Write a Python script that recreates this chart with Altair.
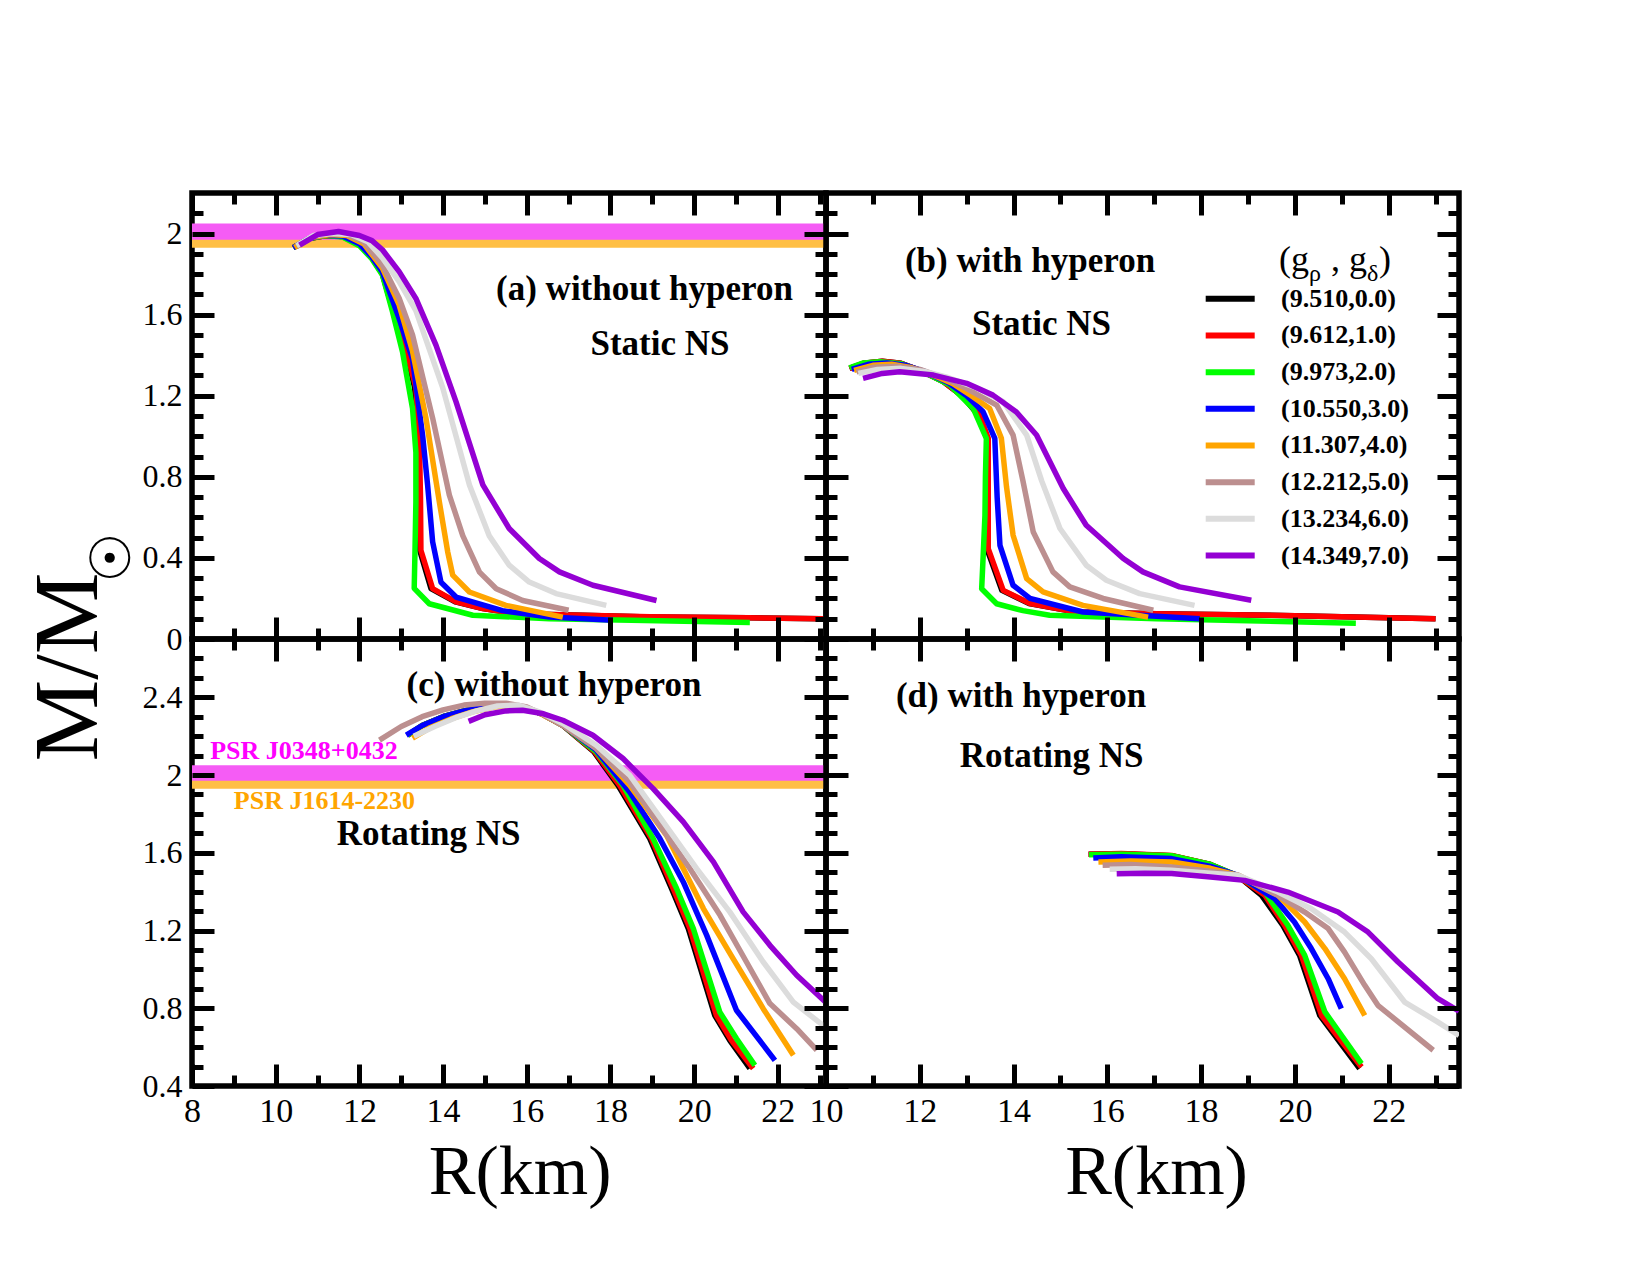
import altair as alt
import pandas as pd

LABELS = ["(9.510,0.0)", "(9.612,1.0)", "(9.973,2.0)", "(10.550,3.0)",
          "(11.307,4.0)", "(12.212,5.0)", "(13.234,6.0)", "(14.349,7.0)"]
COLORS = ["#000000", "#ff0000", "#00ff00", "#0000ff",
          "#ffa500", "#bc8f8f", "#dcdcdc", "#9400d3"]

# ---------------- panel (a): without hyperon, static ----------------
A0 = [(10.42,1.93),(10.8,1.975),(11.2,1.99),(11.6,1.985),(12.0,1.945),(12.3,1.88),(12.55,1.80),(12.93,1.53),(13.17,1.37),(13.32,1.24),(13.4,1.006),(13.43,0.7),(13.44,0.438),(13.71,0.249),(14.29,0.183),(14.95,0.15),(15.74,0.125),(17.34,0.117),(18.94,0.108),(21.3,0.105),(23.0,0.10)]
A1 = [(10.42,1.93),(10.8,1.975),(11.2,1.99),(11.6,1.985),(12.0,1.945),(12.3,1.88),(12.55,1.80),(12.95,1.53),(13.19,1.37),(13.35,1.24),(13.43,1.006),(13.46,0.7),(13.47,0.438),(13.75,0.249),(14.31,0.183),(14.95,0.15),(15.74,0.125),(17.34,0.117),(18.94,0.11),(21.3,0.105),(23.09,0.10)]
A2 = [(10.42,1.93),(10.8,1.975),(11.2,1.99),(11.6,1.983),(12.0,1.94),(12.3,1.875),(12.55,1.795),(12.79,1.615),(13.03,1.417),(13.27,1.137),(13.35,0.92),(13.35,0.676),(13.33,0.45),(13.31,0.25),(13.67,0.174),(14.71,0.117),(16.54,0.1),(18.5,0.092),(21.33,0.081)]
A3 = [(10.42,1.93),(10.8,1.976),(11.2,1.992),(11.6,1.988),(12.0,1.95),(12.3,1.885),(12.55,1.81),(12.95,1.58),(13.27,1.38),(13.51,1.006),(13.63,0.76),(13.75,0.48),(13.95,0.28),(14.31,0.207),(15.42,0.14),(16.54,0.108),(18.06,0.092)]
A4 = [(10.45,1.932),(10.85,1.98),(11.3,1.995),(11.7,1.99),(12.1,1.95),(12.55,1.83),(12.95,1.648),(13.27,1.42),(13.59,1.09),(13.91,0.677),(14.11,0.43),(14.23,0.315),(14.63,0.232),(15.5,0.166),(16.86,0.108)]
A5 = [(10.5,1.935),(10.9,1.985),(11.3,2.0),(11.7,1.995),(12.1,1.96),(12.55,1.845),(12.95,1.681),(13.27,1.50),(13.75,1.09),(14.15,0.71),(14.47,0.51),(14.87,0.33),(15.27,0.248),(15.9,0.19),(17.0,0.142)]
A6 = [(10.5,1.94),(10.9,1.99),(11.35,2.0),(11.8,1.995),(12.2,1.96),(12.55,1.88),(12.95,1.763),(13.35,1.62),(13.99,1.24),(14.63,0.76),(15.1,0.51),(15.58,0.364),(16.06,0.281),(16.7,0.224),(17.9,0.166)]
A7 = [(10.57,1.943),(11.0,1.995),(11.5,2.01),(12.0,1.99),(12.3,1.965),(12.55,1.92),(12.95,1.812),(13.35,1.68),(13.83,1.45),(14.31,1.17),(14.95,0.76),(15.58,0.545),(16.3,0.397),(16.78,0.331),(17.58,0.265),(19.1,0.19)]

# ---------------- panel (b): with hyperon, static ----------------
B0 = [(10.5,1.335),(10.8,1.36),(11.2,1.37),(11.6,1.36),(12.0,1.325),(12.5,1.27),(12.9,1.2),(13.25,1.104),(13.43,0.99),(13.43,0.446),(13.75,0.24),(14.33,0.175),(15.34,0.133),(17.05,0.125),(20.0,0.115),(23.0,0.10)]
B1 = [(10.5,1.335),(10.8,1.36),(11.2,1.37),(11.6,1.36),(12.0,1.325),(12.5,1.27),(12.9,1.2),(13.28,1.104),(13.46,0.99),(13.46,0.446),(13.78,0.24),(14.35,0.175),(15.34,0.133),(17.05,0.125),(20.0,0.115),(23.0,0.10)]
B2 = [(10.5,1.338),(10.8,1.362),(11.15,1.368),(11.6,1.358),(12.07,1.318),(12.64,1.253),(13.14,1.137),(13.42,0.99),(13.4,0.8),(13.39,0.61),(13.35,0.4),(13.32,0.248),(13.64,0.174),(14.2,0.14),(14.77,0.117),(17.05,0.1),(19.0,0.09),(21.3,0.078)]
B3 = [(10.55,1.33),(10.9,1.355),(11.3,1.362),(11.7,1.35),(12.1,1.32),(12.6,1.265),(13.0,1.2),(13.35,1.121),(13.6,0.99),(13.65,0.7),(13.71,0.462),(13.99,0.265),(14.35,0.2),(15.48,0.133),(17.97,0.1)]
B4 = [(10.6,1.325),(11.0,1.35),(11.4,1.355),(11.8,1.34),(12.2,1.31),(12.7,1.26),(13.1,1.2),(13.49,1.137),(13.74,0.99),(13.85,0.75),(13.99,0.512),(14.28,0.298),(14.63,0.232),(15.48,0.166),(16.87,0.108)]
B5 = [(10.65,1.318),(11.0,1.34),(11.5,1.345),(12.0,1.33),(12.5,1.29),(13.0,1.235),(13.64,1.154),(13.99,1.006),(14.2,0.78),(14.42,0.528),(14.84,0.331),(15.2,0.257),(15.91,0.2),(16.98,0.142)]
B6 = [(10.69,1.31),(11.1,1.33),(11.6,1.335),(12.1,1.32),(12.6,1.29),(13.2,1.24),(13.78,1.17),(14.28,1.006),(14.6,0.78),(14.99,0.545),(15.55,0.364),(15.98,0.29),(16.69,0.224),(17.86,0.166)]
B7 = [(10.79,1.286),(11.2,1.31),(11.57,1.318),(12.29,1.302),(13.0,1.261),(13.56,1.203),(14.06,1.12),(14.49,1.006),(15.06,0.742),(15.55,0.561),(16.34,0.397),(16.76,0.331),(17.54,0.257),(19.07,0.191)]

# ---------------- panel (c): without hyperon, rotating ----------------
C0 = [(13.15,2.205),(13.5,2.255),(14.0,2.30),(14.5,2.33),(15.0,2.35),(15.5,2.36),(16.0,2.345),(16.4,2.31),(16.86,2.256),(17.6,2.12),(18.18,1.947),(18.94,1.673),(19.46,1.416),(19.86,1.21),(20.49,0.764),(20.85,0.635),(21.33,0.49)]
C1 = [(13.15,2.205),(13.5,2.255),(14.0,2.30),(14.5,2.33),(15.0,2.35),(15.5,2.36),(16.0,2.345),(16.4,2.31),(16.86,2.256),(17.62,2.12),(18.22,1.947),(18.98,1.673),(19.5,1.416),(19.9,1.21),(20.53,0.764),(20.89,0.635),(21.41,0.49)]
C2 = [(13.15,2.205),(13.5,2.255),(14.0,2.30),(14.5,2.33),(15.0,2.35),(15.5,2.36),(16.0,2.345),(16.4,2.31),(16.86,2.256),(17.66,2.12),(18.3,1.947),(19.02,1.673),(19.58,1.416),(19.98,1.21),(20.61,0.781),(21.01,0.644),(21.45,0.506)]
C3 = [(13.12,2.205),(13.5,2.255),(14.0,2.30),(14.5,2.33),(15.0,2.35),(15.5,2.36),(16.0,2.345),(16.4,2.31),(16.86,2.256),(17.66,2.128),(18.46,1.913),(19.18,1.673),(19.74,1.45),(20.3,1.175),(21.01,0.79),(21.93,0.532)]
C4 = [(13.27,2.19),(13.7,2.245),(14.2,2.29),(14.7,2.325),(15.2,2.35),(15.7,2.36),(16.2,2.33),(16.86,2.256),(17.66,2.136),(18.46,1.947),(19.34,1.69),(20.22,1.313),(20.93,1.055),(21.65,0.798),(22.37,0.558)]
C5 = [(12.48,2.18),(13.0,2.25),(13.5,2.30),(14.0,2.335),(14.5,2.36),(15.0,2.37),(15.5,2.37),(16.0,2.35),(16.4,2.31),(16.86,2.256),(17.66,2.136),(18.46,1.965),(19.18,1.741),(19.9,1.518),(20.62,1.278),(21.25,1.038),(21.81,0.824),(22.45,0.695),(22.93,0.584)]
C6 = [(13.3,2.2),(13.8,2.25),(14.3,2.295),(14.8,2.33),(15.3,2.355),(15.8,2.36),(16.3,2.325),(16.86,2.265),(17.66,2.153),(18.46,1.999),(19.26,1.759),(20.06,1.518),(20.85,1.296),(21.65,1.038),(22.37,0.832),(23.15,0.70)]
C7 = [(14.61,2.276),(15.0,2.31),(15.5,2.33),(15.9,2.333),(16.4,2.315),(16.86,2.282),(17.58,2.205),(18.3,2.085),(19.02,1.93),(19.74,1.759),(20.46,1.553),(21.17,1.296),(21.81,1.124),(22.45,0.97),(23.15,0.83)]

# ---------------- panel (d): with hyperon, rotating ----------------
D0 = [(15.6,1.592),(16.3,1.595),(17.37,1.585),(18.2,1.54),(18.79,1.48),(19.29,1.381),(19.74,1.227),(20.1,1.072),(20.53,0.763),(21.38,0.49)]
D1 = [(15.6,1.593),(16.3,1.596),(17.37,1.586),(18.2,1.54),(18.79,1.478),(19.36,1.381),(19.78,1.227),(20.14,1.072),(20.57,0.763),(21.42,0.498)]
D2 = [(15.61,1.59),(16.3,1.593),(17.37,1.585),(18.2,1.54),(18.79,1.48),(19.36,1.398),(19.85,1.227),(20.21,1.072),(20.64,0.781),(21.42,0.515)]
D3 = [(15.7,1.573),(16.3,1.58),(17.37,1.57),(18.2,1.53),(18.79,1.484),(19.57,1.364),(19.99,1.244),(20.35,1.107),(20.71,0.952),(20.99,0.798)]
D4 = [(15.81,1.553),(16.5,1.558),(17.37,1.553),(18.2,1.52),(18.79,1.484),(19.64,1.381),(20.21,1.244),(20.64,1.107),(21.06,0.952),(21.49,0.763)]
D5 = [(15.9,1.536),(16.5,1.54),(17.37,1.527),(18.2,1.505),(18.79,1.484),(19.64,1.381),(20.21,1.295),(20.71,1.21),(21.06,1.089),(21.49,0.918),(21.77,0.815),(22.95,0.584)]
D6 = [(16.05,1.515),(16.6,1.518),(17.37,1.51),(18.2,1.495),(18.79,1.484),(19.64,1.398),(20.35,1.312),(21.06,1.192),(21.63,1.055),(22.34,0.832),(23.05,0.729),(23.5,0.66)]
D7 = [(16.2,1.492),(16.8,1.495),(17.37,1.493),(18.2,1.475),(18.93,1.458),(19.85,1.398),(20.92,1.295),(21.56,1.192),(22.2,1.038),(23.05,0.849),(23.5,0.785)]

# pulsar mass constraints
BAND_NAMES = ["PSR J1614-2230", "PSR J0348+0432"]
BAND_LO = [1.93, 1.97]
BAND_HI = [2.01, 2.05]
BAND_FILLS = ["#ffbf45", "#f55cf5"]

# axis ranges and ticks
XDOM_L = [8, 23.15]
XDOM_R = [10, 23.5]
YDOM_T = [0, 2.2]
YDOM_B = [0.4, 2.7]
XMAJ_L = [8, 10, 12, 14, 16, 18, 20, 22]
XMIN_L = [9, 11, 13, 15, 17, 19, 21, 23]
XMAJ_R = [10, 12, 14, 16, 18, 20, 22]
XMIN_R = [11, 13, 15, 17, 19, 21, 23]
YMAJ_T = [0, 0.4, 0.8, 1.2, 1.6, 2.0]
YMIN_T = [0.1, 0.2, 0.3, 0.5, 0.6, 0.7, 0.9, 1.0, 1.1, 1.3, 1.4, 1.5, 1.7, 1.8, 1.9, 2.1]
YMAJ_B = [0.4, 0.8, 1.2, 1.6, 2.0, 2.4]
YMIN_B = [0.5, 0.6, 0.7, 0.9, 1.0, 1.1, 1.3, 1.4, 1.5, 1.7, 1.8, 1.9, 2.1, 2.2, 2.3, 2.5, 2.6]

SERIF = "Liberation Serif"
W_L, W_R = 634, 633
H_T, H_B = 446, 447
MAJ, MIN = 22, 11

CSCALE = alt.Scale(domain=LABELS, range=COLORS)


def series_df(series):
    rows = []
    for k, pts in enumerate(series):
        for i, (r, m) in enumerate(pts):
            rows.append({"series": LABELS[k], "k": k, "i": i, "R": r, "M": m})
    return pd.DataFrame(rows)


def axis(orient, values, major, labels=False, size=32, pad=10, fmt=None, **extra):
    L = MAJ if major else MIN
    kw = dict(orient=orient, values=values, offset=-L, tickSize=L, tickWidth=5,
              tickColor="black", tickCap="butt", domain=False, grid=False,
              labels=labels, zindex=1, title=None)
    if labels:
        kw.update(labelFont=SERIF, labelFontSize=size, labelColor="black",
                  labelPadding=pad, labelOverlap=False, labelFlush=False, labelBound=False)
        if fmt:
            kw["format"] = fmt
    kw.update(extra)
    return alt.Axis(**kw)


def text(t, x, y, size=35, color="black", align="center", weight="bold", font=SERIF, angle=0,
         baseline="alphabetic"):
    return alt.Chart(pd.DataFrame({"t": [t]})).mark_text(
        font=font, fontSize=size, fontWeight=weight, color=color, align=align,
        baseline=baseline, angle=angle
    ).encode(x=alt.value(x), y=alt.value(y), text="t:N")


def panel(series, xdom, ydom, w, xmaj, xmin, ymaj, ymin, xlabels, ylabels,
          bands=False, extra=None, xtitle_x=None):
    xs = alt.Scale(domain=xdom, nice=False, zero=False)
    ys = alt.Scale(domain=ydom, nice=False, zero=False)
    df = series_df(series)
    if xlabels:
        bottom_major = axis("bottom", xmaj, True, labels=True, size=34, pad=8, fmt="d",
                            title="R(km)", titleFont=SERIF, titleFontSize=70,
                            titleFontWeight="normal", titleColor="black",
                            titleX=xtitle_x, titleY=129, titleAlign="center",
                            titleBaseline="alphabetic", titleAngle=0)
    else:
        bottom_major = axis("bottom", xmaj, True)
    axes_x = [bottom_major, axis("bottom", xmin, False),
              axis("top", xmaj, True), axis("top", xmin, False)]
    axes_y = [axis("left", ymaj, True, labels=ylabels, size=32, pad=10, fmt="~g"),
              axis("left", ymin, False), axis("right", ymaj, True), axis("right", ymin, False)]
    layers = []
    if bands:
        bdf = pd.DataFrame({"name": BAND_NAMES, "lo": BAND_LO, "hi": BAND_HI})
        layers.append(alt.Chart(bdf).mark_rect().encode(
            x=alt.value(0), x2=alt.value("width"),
            y=alt.Y("lo:Q", scale=ys, axis=None), y2="hi:Q",
            fill=alt.Fill("name:N", scale=alt.Scale(domain=BAND_NAMES, range=BAND_FILLS), legend=None),
            order=alt.Order("lo:Q"),
        ))
    for k in range(8):
        layers.append(alt.Chart(df).transform_filter(alt.datum.k == k).mark_line(
            strokeWidth=5.5, clip=True, strokeJoin="round", strokeCap="butt"
        ).encode(
            x=alt.X("R:Q", scale=xs, axis=axes_x[k] if k < 4 else None),
            y=alt.Y("M:Q", scale=ys, axis=axes_y[k] if k < 4 else None),
            color=alt.Color("series:N", scale=CSCALE, legend=None),
            order=alt.Order("i:Q"),
        ))
    if extra:
        layers.extend(extra)
    return alt.layer(*layers).properties(width=w, height=H_T if ydom == YDOM_T else H_B)


# legend (inside panel b)
LEG = pd.DataFrame({"series": LABELS, "idx": list(range(8))})
leg_scale = alt.Scale(domain=[0, 7], range=[105.8, 362.5], nice=False, zero=False)
legend_layers = [
    alt.Chart(LEG).mark_rule(strokeWidth=6, strokeCap="butt").encode(
        x=alt.value(379.7), x2=alt.value(428.7),
        y=alt.Y("idx:Q", scale=leg_scale, axis=None),
        color=alt.Color("series:N", scale=CSCALE, legend=None)),
    alt.Chart(LEG).mark_text(font=SERIF, fontSize=26, fontWeight="bold", align="left",
                             baseline="middle", color="black").encode(
        x=alt.value(455), y=alt.Y("idx:Q", scale=leg_scale, axis=None), text="series:N"),
    text("(g", 453, 78, size=36, weight="normal", align="left"),
    text("ρ", 483, 88, size=24, weight="normal", align="left"),
    text(", g", 505, 78, size=36, weight="normal", align="left"),
    text("δ", 541, 88, size=24, weight="normal", align="left"),
    text(")", 553, 78, size=36, weight="normal", align="left"),
]

pa = panel([A0, A1, A2, A3, A4, A5, A6, A7], XDOM_L, YDOM_T, W_L, XMAJ_L, XMIN_L, YMAJ_T, YMIN_T,
           xlabels=False, ylabels=True, bands=True,
           extra=[text("(a) without hyperon", 452.5, 107), text("Static NS", 468, 161.5),
                  text("M/M", -95, 474, size=92, weight="normal", angle=270),
                  text("☉", -82.5, 368, size=56, weight="bold", font="DejaVu Sans",
                       baseline="middle")])
pa = pa.resolve_axis(x="independent", y="independent")

pb = panel([B0, B1, B2, B3, B4, B5, B6, B7], XDOM_R, YDOM_T, W_R, XMAJ_R, XMIN_R, YMAJ_T, YMIN_T,
           xlabels=False, ylabels=False,
           extra=[text("(b) with hyperon", 204, 79), text("Static NS", 215.5, 141.5)] + legend_layers)
pb = pb.resolve_scale(y="independent").resolve_axis(x="independent", y="independent")

pc = panel([C0, C1, C2, C3, C4, C5, C6, C7], XDOM_L, YDOM_B, W_L, XMAJ_L, XMIN_L, YMAJ_B, YMIN_B,
           xlabels=True, ylabels=True, bands=True, xtitle_x=327.7,
           extra=[text("(c) without hyperon", 362, 56.5), text("Rotating NS", 236.7, 206.3),
                  text("PSR J0348+0432", 18.2, 120.3, size=26, color="#ff00ff", align="left"),
                  text("PSR J1614-2230", 41.8, 169.7, size=26, color="#ffa500", align="left")])
pc = pc.resolve_axis(x="independent", y="independent")

pd_ = panel([D0, D1, D2, D3, D4, D5, D6, D7], XDOM_R, YDOM_B, W_R, XMAJ_R, XMIN_R, YMAJ_B, YMIN_B,
            xlabels=True, ylabels=False, xtitle_x=330,
            extra=[text("(d) with hyperon", 195, 68), text("Rotating NS", 225.6, 128)])
pd_ = pd_.resolve_axis(x="independent", y="independent")

chart = alt.concat(
    pa, pb, pc, pd_, columns=2, spacing=0, bounds="flush",
).configure_view(stroke="black", strokeWidth=5.5).properties(
    padding={"left": 20, "top": 187, "right": 5, "bottom": 5},
    background="white",
)

chart.save("out.html", embed_options={"renderer": "svg", "actions": False})
